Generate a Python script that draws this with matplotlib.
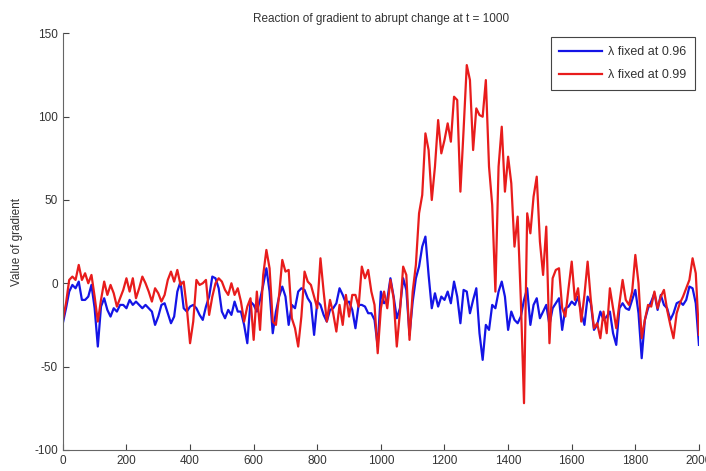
import numpy as np
import matplotlib
matplotlib.use("Agg")
import matplotlib.pyplot as plt

# time axis, one value every 10 steps
t = np.arange(0, 2001, 10)

# lambda = 0.96
grad_096 = [
    -24, -15, -5, -1, -3, 1, -10, -10, -8, -1,
    -15, -38, -14, -9, -16, -20, -15, -17, -13, -13,
    -15, -10, -13, -11, -13, -15, -13, -15, -17, -25,
    -20, -13, -12, -18, -24, -20, -5, 1, -15, -17,
    -14, -13, -15, -19, -22, -14, -8, 4, 3, -3,
    -17, -21, -16, -19, -11, -17,
    -17, -25, -36, -11, -13, -17, -10, -1, 9, -5,
    -30, -17, -8, -2, -8, -25, -13, -15, -5, -3,
    -4, -9, -12, -31, -11, -13, -19, -23, -16, -15,
    -12, -3, -7, -12, -11, -16, -27, -13, -13, -14,
    -18, -18, -22, -38, -5, -12, -10, 3, -8, -21,
    -15, 3, -4, -31, -11,
    3, 10, 22, 28, 5, -15, -6, -14, -8, -10,
    -5, -12, 1, -8, -24, -4, -5, -18, -10, -3,
    -30, -46, -25, -28, -13, -15, -5, 1, -8, -28,
    -17, -22, -24, -20, -10, -3, -25, -13, -9, -21,
    -17, -13, -25, -15, -12, -9,
    -28, -15, -14, -11, -13, -8, -18, -25, -8, -12,
    -28, -25, -17, -22, -20, -17, -30, -37, -15, -12,
    -15, -16, -10, -4, -18, -45, -22, -15, -11, -6,
    -16, -7, -13, -15, -22, -18, -12, -11, -13, -10,
    -2, -3, -12, -37,
]

# lambda = 0.99
grad_099 = [
    -22, -12, 2, 4, 2, 11, 2, 6, 0, 5,
    -8, -23, -10, 1, -7, -1, -6, -14, -9, -4,
    3, -5, 3, -9, -3, 4, 0, -5, -11, -3,
    -6, -11, -7, 2, 7, 1, 8, -1, 1, -15,
    -36, -23, 2, -1, 0, 2, -19, -8, 0, 3,
    1, -4, -7, 0, -7, -3,
    -11, -23, -14, -9, -34, -5, -28, 5, 20, 9,
    -23, -25, -7, 14, 7, 8, -21, -27, -38, -20,
    7, 1, -1, -8, -15, 15, -5, -23, -10, -18,
    -29, -13, -25, -7, -20, -7, -7, -14, 10, 3,
    8, -5, -13, -42, -15, -5, -15, 2, -9, -38,
    -17, 10, 5, -34, -5,
    11, 42, 53, 90, 80, 50, 70, 98, 78, 86,
    96, 85, 112, 110, 55, 92, 131, 122, 80, 105,
    101, 100, 122, 70, 47, -5, 70, 94, 55, 76,
    60, 22, 40, -10, -72, 42, 30, 52, 64, 25,
    5, 34, -36, 3, 8, 9,
    -15, -20, -3, 13, -10, -3, -23, -7, 13, -10,
    -27, -24, -33, -17, -30, -3, -15, -27, -12, 2,
    -10, -13, -5, 17, 0, -33, -22, -13, -14, -5,
    -15, -8, -4, -16, -25, -33, -18, -12, -8, -3,
    2, 15, 6, -31,
]

labels = ["λ fixed at 0.96", "λ fixed at 0.99"]
x_ticks = list(range(0, 2001, 200))
y_ticks = [-100, -50, 0, 50, 100, 150]

plt.rcParams["font.family"] = ["Liberation Sans", "DejaVu Sans"]
plt.rcParams["font.size"] = 8
plt.rcParams["axes.unicode_minus"] = False

fig = plt.figure(figsize=(7.06, 4.71), dpi=100)
ax = fig.add_axes([0.089, 0.045, 0.901, 0.884])

ax.plot(t, grad_096, color="#1414e6", lw=1.6, label=labels[0])
ax.plot(t, grad_099, color="#e81c1c", lw=1.6, label=labels[1])

ax.set_xlim(0, 2000)
ax.set_ylim(-100, 150)
ax.set_xticks(x_ticks)
ax.set_yticks(y_ticks)
ax.tick_params(direction="in", length=4, colors="#444444", labelcolor="#333333",
               labelsize=8.5, top=False, right=False)
for side in ["top", "right"]:
    ax.spines[side].set_visible(False)
for side in ["left", "bottom"]:
    ax.spines[side].set_color("#666666")

ax.set_title("Reaction of gradient to abrupt change at t = 1000",
             fontsize=8.5, color="#333333", pad=8)
ax.set_ylabel("Value of gradient", fontsize=8.5, color="#333333", labelpad=8)

leg = ax.legend(loc="upper right", fontsize=9, handlelength=3.4,
                fancybox=False, borderaxespad=0.3, framealpha=1,
                borderpad=0.7, labelspacing=0.9, handletextpad=0.5)
leg.get_frame().set_edgecolor("#444444")
leg.get_frame().set_linewidth(0.8)
for txt in leg.get_texts():
    txt.set_color("#333333")

fig.savefig("out.png", dpi=100)
